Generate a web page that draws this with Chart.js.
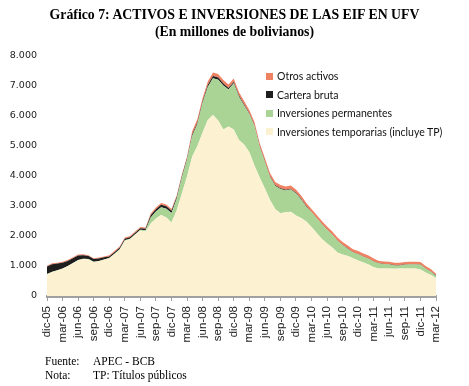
<!DOCTYPE html>
<html>
<head>
<meta charset="utf-8">
<script src="https://cdn.jsdelivr.net/npm/chart.js@4"></script>
<style>
    body { margin: 0; background: #fff; }
    #wrap { position: relative; width: 469px; height: 386px; }
    #chart { position: absolute; left: 0; top: 0; }
    .title { position: absolute; left: 0; width: 469px; text-align: center; font: bold 13.8px "Liberation Serif", serif; color: #000; }
    .foot { position: absolute; font: 11.5px "Liberation Serif", serif; color: #000; }
    #legend { position: absolute; left: 266px; top: 67px; font: 10.5px Lato, sans-serif; color: #111; }
    #legend div { height: 18.5px; display: flex; align-items: center; white-space: nowrap; }
    #legend span.box { width: 7px; height: 7px; margin-right: 4px; display: inline-block; }
</style>
</head>
<body>
<div id="wrap">
    <canvas id="chart" width="469" height="386"></canvas>
    <div class="title" style="top: 7px;">Gráfico 7: ACTIVOS E INVERSIONES DE LAS EIF EN UFV</div>
    <div class="title" style="top: 24px;">(En millones de bolivianos)</div>
    <div id="legend"></div>
    <div class="foot" style="left: 45px; top: 355px;">Fuente:</div>
    <div class="foot" style="left: 93px; top: 355px;">APEC - BCB</div>
    <div class="foot" style="left: 45px; top: 369px;">Nota:</div>
    <div class="foot" style="left: 93px; top: 369px;">TP: Títulos públicos</div>
</div>
<script>
// meses dic-05 .. mar-12
const months = [
    'dic-05', 'ene-06', 'feb-06', 'mar-06', 'abr-06', 'may-06', 'jun-06', 'jul-06', 'ago-06', 'sep-06', 'oct-06', 'nov-06',
    'dic-06', 'ene-07', 'feb-07', 'mar-07', 'abr-07', 'may-07', 'jun-07', 'jul-07', 'ago-07', 'sep-07', 'oct-07', 'nov-07',
    'dic-07', 'ene-08', 'feb-08', 'mar-08', 'abr-08', 'may-08', 'jun-08', 'jul-08', 'ago-08', 'sep-08', 'oct-08', 'nov-08',
    'dic-08', 'ene-09', 'feb-09', 'mar-09', 'abr-09', 'may-09', 'jun-09', 'jul-09', 'ago-09', 'sep-09', 'oct-09', 'nov-09',
    'dic-09', 'ene-10', 'feb-10', 'mar-10', 'abr-10', 'may-10', 'jun-10', 'jul-10', 'ago-10', 'sep-10', 'oct-10', 'nov-10',
    'dic-10', 'ene-11', 'feb-11', 'mar-11', 'abr-11', 'may-11', 'jun-11', 'jul-11', 'ago-11', 'sep-11', 'oct-11', 'nov-11',
    'dic-11', 'ene-12', 'feb-12', 'mar-12'
];

const invTemporarias = [
    720, 800, 850, 910, 990, 1090, 1190, 1230, 1220, 1130, 1160, 1210,
    1260, 1400, 1540, 1840, 1890, 2040, 2180, 2150, 2420, 2580, 2700, 2620,
    2450, 2850, 3420, 3980, 4650, 5000, 5450, 5870, 6030, 5850, 5550, 5650,
    5550, 5200, 5050, 4800, 4350, 3950, 3580, 3200, 2900, 2760, 2790, 2810,
    2680, 2600, 2480, 2300, 2100, 1900, 1750, 1620, 1450, 1380, 1330, 1260,
    1180, 1120, 1050, 960, 920, 920, 920, 910, 920, 920, 920, 920,
    880, 780, 700, 600
];

const invPermanentes = [
    10, 10, 10, 10, 10, 10, 10, 10, 10, 10, 10, 10,
    10, 10, 20, 20, 20, 20, 30, 40, 200, 240, 260, 290,
    320, 380, 520, 560, 680, 730, 980, 1100, 1230, 1360, 1470, 1230,
    1540, 1440, 1300, 1270, 1320, 1020, 890, 770, 770, 810, 730, 740,
    740, 620, 490, 490, 490, 490, 460, 420, 390, 310, 240, 190,
    210, 190, 190, 180, 160, 140, 130, 110, 100, 120, 130, 130,
    160, 130, 110, 70
];

const carteraBruta = [
    250, 250, 220, 190, 170, 160, 150, 120, 100, 90, 80, 70,
    50, 50, 50, 50, 50, 50, 50, 50, 70, 70, 80, 80,
    70, 60, 50, 50, 50, 50, 50, 60, 70, 70, 60, 50,
    40, 40, 30, 20, 20, 20, 20, 20, 20, 20, 20, 20,
    20, 20, 20, 10, 10, 10, 10, 10, 10, 10, 10, 10,
    10, 10, 10, 10, 10, 10, 10, 10, 10, 10, 10, 10,
    10, 10, 10, 10
];

const otrosActivos = [
    30, 30, 30, 30, 30, 30, 30, 30, 30, 30, 30, 30,
    40, 40, 40, 40, 40, 40, 40, 40, 60, 60, 60, 60,
    60, 60, 60, 60, 120, 120, 120, 120, 120, 120, 120, 120,
    120, 120, 120, 110, 110, 110, 110, 110, 110, 110, 110, 110,
    110, 110, 110, 100, 100, 100, 100, 100, 100, 100, 100, 100,
    100, 100, 100, 100, 80, 80, 80, 80, 80, 80, 80, 80,
    80, 80, 80, 60
];

const yTicks = [0, 1000, 2000, 3000, 4000, 5000, 6000, 7000, 8000];

const series = [
    { label: 'Inversiones temporarias (incluye TP)', data: invTemporarias, color: '#FCF1D0' },
    { label: 'Inversiones permanentes', data: invPermanentes, color: '#A9D496' },
    { label: 'Cartera bruta', data: carteraBruta, color: '#1E1E1E' },
    { label: 'Otros activos', data: otrosActivos, color: '#F08264' }
];

const legend = document.getElementById('legend');
series.slice().reverse().forEach(s => {
    const row = document.createElement('div');
    row.innerHTML = '<span class="box" style="background:' + s.color + '"></span>' + s.label;
    legend.appendChild(row);
});

new Chart(document.getElementById('chart'), {
    type: 'line',
    data: {
        labels: months,
        datasets: series.map((s, i) => ({
            label: s.label,
            data: s.data,
            backgroundColor: s.color,
            borderWidth: 0,
            pointRadius: 0,
            fill: i === 0 ? 'origin' : '-1'
        }))
    },
    options: {
        responsive: false,
        animation: false,
        layout: {
            padding: { left: 0, right: 33, top: 56, bottom: 30 }
        },
        plugins: {
            legend: { display: false },
            tooltip: { enabled: false }
        },
        scales: {
            x: {
                offset: false,
                grid: {
                    drawOnChartArea: false,
                    tickLength: 5,
                    color: ctx => ctx.index % 3 === 0 ? '#A0A0A0' : 'transparent'
                },
                border: { color: '#A0A0A0', width: 3 },
                ticks: {
                    autoSkip: false,
                    maxRotation: 90,
                    minRotation: 90,
                    padding: 5,
                    color: '#222',
                    font: { family: 'Liberation Sans', size: 11.5 },
                    callback: (v, i) => i % 3 === 0 ? months[i] : ''
                },
                afterFit: scale => { scale.height = 60; }
            },
            y: {
                stacked: true,
                min: 0,
                max: 8000,
                grid: { display: false, drawTicks: false },
                border: { display: false },
                afterBuildTicks: scale => { scale.ticks = yTicks.map(v => ({ value: v })); },
                ticks: {
                    padding: 10,
                    color: '#222',
                    font: { family: 'DejaVu Sans', size: 9.5 },
                    callback: v => v.toLocaleString('de-DE')
                },
                afterFit: scale => { scale.width = 47; }
            }
        }
    }
});
</script>
</body>
</html>
